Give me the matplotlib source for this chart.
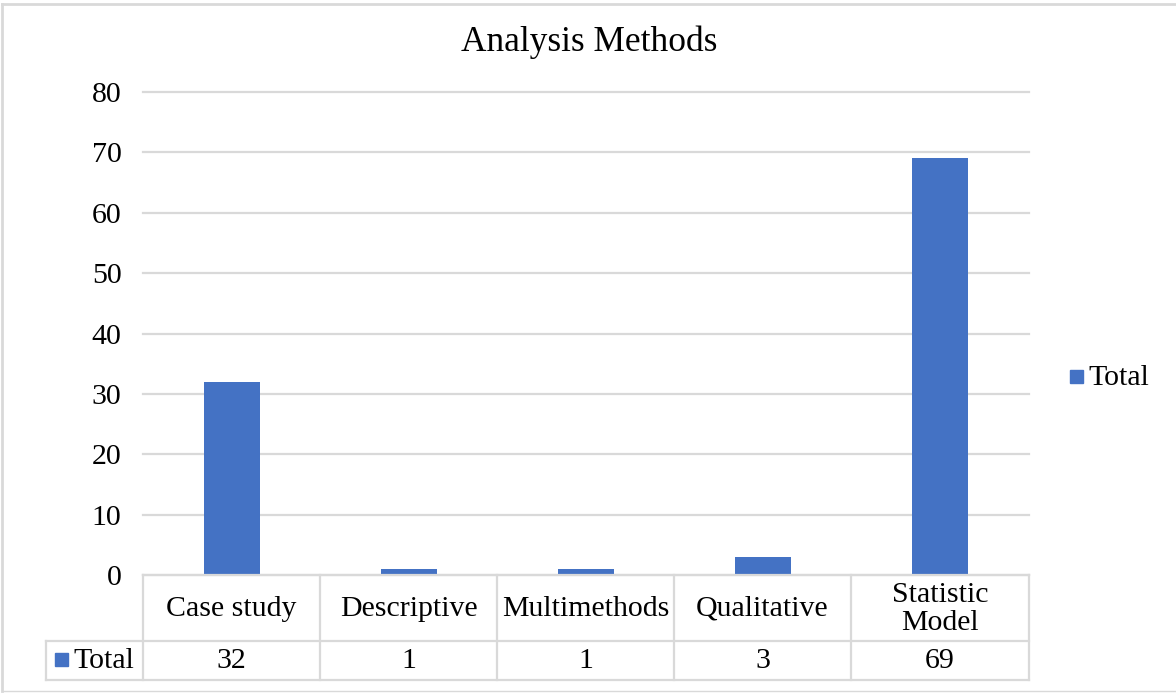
import matplotlib
matplotlib.use("Agg")
import matplotlib.pyplot as plt
from matplotlib.lines import Line2D
from matplotlib.patches import Rectangle

categories = ["Case study", "Descriptive", "Multimethods", "Qualitative", "Statistic\nModel"]
totals = [32, 1, 1, 3, 69]
series_name = "Total"
y_ticks = [0, 10, 20, 30, 40, 50, 60, 70, 80]
title = "Analysis Methods"

W, H = 1176, 693
plt.rcParams["font.family"] = ["Liberation Serif", "DejaVu Serif"]
bar_color = "#4472C4"
grid_color = "#D9D9D9"
fs = 21.5

fig = plt.figure(figsize=(W / 100, H / 100), dpi=100)

def fx(px):
    return px / W

def fy(py):
    return 1 - py / H

# plot area in pixel coordinates
x0, x1 = 143, 1029
y_top, y_bot = 92, 575
ax = fig.add_axes([fx(x0), fy(y_bot), fx(x1) - fx(x0), fy(y_top) - fy(y_bot)])
positions = list(range(len(categories)))
ax.bar(positions, totals, width=0.316, color=bar_color, zorder=3)
ax.set_xlim(-0.5, len(categories) - 0.5)
ax.set_ylim(0, 80)
ax.set_yticks(y_ticks)
ax.set_yticklabels([str(t) for t in y_ticks], fontsize=fs)
ax.tick_params(axis="y", length=0, pad=15.5)
ax.set_xticks([])
ax.grid(axis="y", color=grid_color, linewidth=1.6, zorder=0)
for gl in ax.get_ygridlines():
    gl.set_clip_on(False)
for s in ax.spines.values():
    s.set_visible(False)

fig.text(fx(589), fy(42), title, ha="center", va="center", fontsize=25.5)

# data table below the plot area
col_edges = [143, 320, 497, 674, 851, 1029]
row_top, row_mid, row_bot = 575, 641, 680
label_left = 46
lw = 1.6

def hline(xa, xb, y):
    fig.add_artist(Line2D([fx(xa), fx(xb)], [fy(y), fy(y)], color=grid_color, lw=lw))

def vline(x, ya, yb):
    fig.add_artist(Line2D([fx(x), fx(x)], [fy(ya), fy(yb)], color=grid_color, lw=lw))

hline(col_edges[0], col_edges[-1], row_top)
hline(label_left, col_edges[-1], row_mid)
hline(label_left, col_edges[-1], row_bot)
for xe in col_edges:
    vline(xe, row_top, row_bot)
vline(label_left, row_mid, row_bot)

for i, (cat, val) in enumerate(zip(categories, totals)):
    cx = (col_edges[i] + col_edges[i + 1]) / 2
    fig.text(fx(cx), fy(609), cat, ha="center", va="center", fontsize=fs,
             linespacing=1.15)
    fig.text(fx(cx), fy(661), str(val), ha="center", va="center", fontsize=fs)

# legend key inside the table
fig.add_artist(Rectangle((fx(55), fy(666)), fx(13), fy(653) - fy(666),
                         color=bar_color, transform=fig.transFigure))
fig.text(fx(73), fy(661), series_name, ha="left", va="center", fontsize=fs)

# legend on the right
fig.add_artist(Rectangle((fx(1070), fy(383)), fx(13), fy(370) - fy(383),
                         color=bar_color, transform=fig.transFigure))
fig.text(fx(1088), fy(378), series_name, ha="left", va="center", fontsize=fs)

# chart frame
frame_c = "#D9D9D9"
fig.add_artist(Line2D([fx(2), fx(2)], [fy(4), fy(691)], color=frame_c, lw=2))
fig.add_artist(Line2D([fx(2), fx(1176)], [fy(4), fy(4)], color=frame_c, lw=2))
fig.add_artist(Line2D([fx(2), fx(1176)], [fy(691), fy(691)], color=frame_c, lw=1))

fig.savefig("out.png", dpi=100, facecolor="white")
